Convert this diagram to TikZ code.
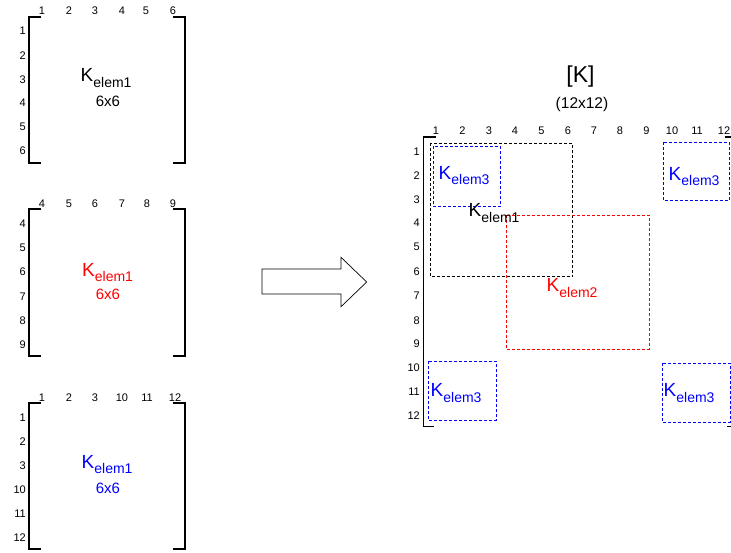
\documentclass[tikz,border=0pt]{standalone}
\usepackage{fontspec}
\setmainfont{Liberation Sans}
\newcommand\Kname[1]{{\fontsize{19}{19}\selectfont K}\raisebox{-5.5pt}{\fontsize{14}{14}\selectfont elem#1}}
\begin{document}
\begin{tikzpicture}[x=1pt,y=-1pt,
  lbl/.style={inner sep=0pt, font=\fontsize{11}{11}\selectfont},
  rowlbl/.style={lbl, anchor=east},
  collbl/.style={lbl, anchor=center},
  kname/.style={inner sep=0pt, anchor=base west},
  dims/.style={inner sep=0pt, font=\fontsize{15}{15}\selectfont},
  brk/.style={line width=1.4pt},
  part/.style={dash pattern=on 3pt off 2pt, line width=0.8pt},
  bigarrow/.style={line width=0.7pt, fill=white}]
\useasboundingbox (0,0) rectangle (731,552);

% ---- element matrix 1 (black)
\foreach \t/\x in {1/42,2/69,3/95,4/122,5/146,6/173}
  \node[collbl] (ac\t) at (\x,10.5) {\t};
\foreach \t/\y in {1/31,2/55.5,3/79.5,4/103,5/127,6/151}
  \node[rowlbl] (ar\t) at (26,\y) {\t};
\draw[brk] (41,17) -- (29,17) -- (29,163) -- (41,163);
\draw[brk] (173,17) -- (185,17) -- (185,163) -- (173,163);
\node[kname] (ak) at (80.5,81.7) {\Kname{1}};
\node[dims] (ad) at (108,101) {6x6};

% ---- element matrix 2 (red)
\foreach \t/\x in {4/42,5/69,6/95,7/122,8/147,9/173}
  \node[collbl] (bc\t) at (\x,203.5) {\t};
\foreach \t/\y in {4/224,5/248,6/272,7/297,8/321,9/345}
  \node[rowlbl] (br\t) at (26,\y) {\t};
\draw[brk] (41,209) -- (29,209) -- (29,356) -- (41,356);
\draw[brk] (173,209) -- (185,209) -- (185,356) -- (173,356);
\begin{scope}[red]
\node[kname] (bk) at (82,276) {\Kname{1}};
\node[dims] (bd) at (108,294.5) {6x6};
\end{scope}

% ---- element matrix 3 (blue)
\foreach \t/\x in {1/42,2/69,3/95,10/122,11/147,12/175}
  \node[collbl] (cc\t) at (\x,397.5) {\t};
\foreach \t/\y in {1/417.5,2/441.5,3/466,10/489.5,11/513.5,12/537.5}
  \node[rowlbl] (cr\t) at (26,\y) {\t};
\draw[brk] (41,403) -- (29,403) -- (29,549) -- (41,549);
\draw[brk] (173,403) -- (185,403) -- (185,549) -- (173,549);
\begin{scope}[blue]
\node[kname] (ck) at (81.5,468) {\Kname{1}};
\node[dims] (cd) at (108,488.5) {6x6};
\end{scope}

% ---- assembly arrow
\draw[bigarrow] (262,269) -- (341,269) -- (341,257.3) -- (366.7,282) -- (341,306.7)
  -- (341,294) -- (262,294) -- cycle;

% ---- global matrix
\node[inner sep=0pt, font=\fontsize{23}{23}\selectfont] (gk) at (580.5,76.7) {[K]};
\node[inner sep=0pt, font=\fontsize{15.5}{15.5}\selectfont] (gs) at (582,104) {(12x12)};
\foreach \t/\x in {1/436,2/462.5,3/489,4/515,5/541.5,6/568,7/594,8/620,9/646.5,10/672,11/697,12/724}
  \node[collbl] (gc\t) at (\x,131) {\t};
\foreach \t/\y in {1/152,2/176,3/199.5,4/223,5/247,6/272,7/296,8/321,9/344,10/368,11/392,12/416}
  \node[rowlbl] (gr\t) at (420,\y) {\t};
\draw[brk] (436,137) -- (423.5,137) -- (423.5,426.5) -- (434,426.5);
\draw[brk] (725,137) -- (737,137) -- (737,426.5) -- (727,426.5);

% element blocks placed in the global matrix
\draw[part] (430,143) rectangle (572.5,276.5);
\draw[part, red] (506,215) rectangle (649,349);
\draw[part, blue] (433,146) rectangle (500.5,206);
\draw[part, blue] (663,142) rectangle (729,200.5);
\draw[part, blue] (428,361) rectangle (496,420);
\draw[part, blue] (662,363) rectangle (730,422);

\node[kname, blue] (g3a) at (438.5,179.3) {\Kname{3}};
\node[kname] (g1) at (468.5,216.5) {\Kname{1}};
\node[kname, red] (g2) at (546.5,291.7) {\Kname{2}};
\node[kname, blue] (g3b) at (668.5,180) {\Kname{3}};
\node[kname, blue] (g3c) at (430.5,396.7) {\Kname{3}};
\node[kname, blue] (g3d) at (663.5,396.7) {\Kname{3}};
\end{tikzpicture}
\end{document}
